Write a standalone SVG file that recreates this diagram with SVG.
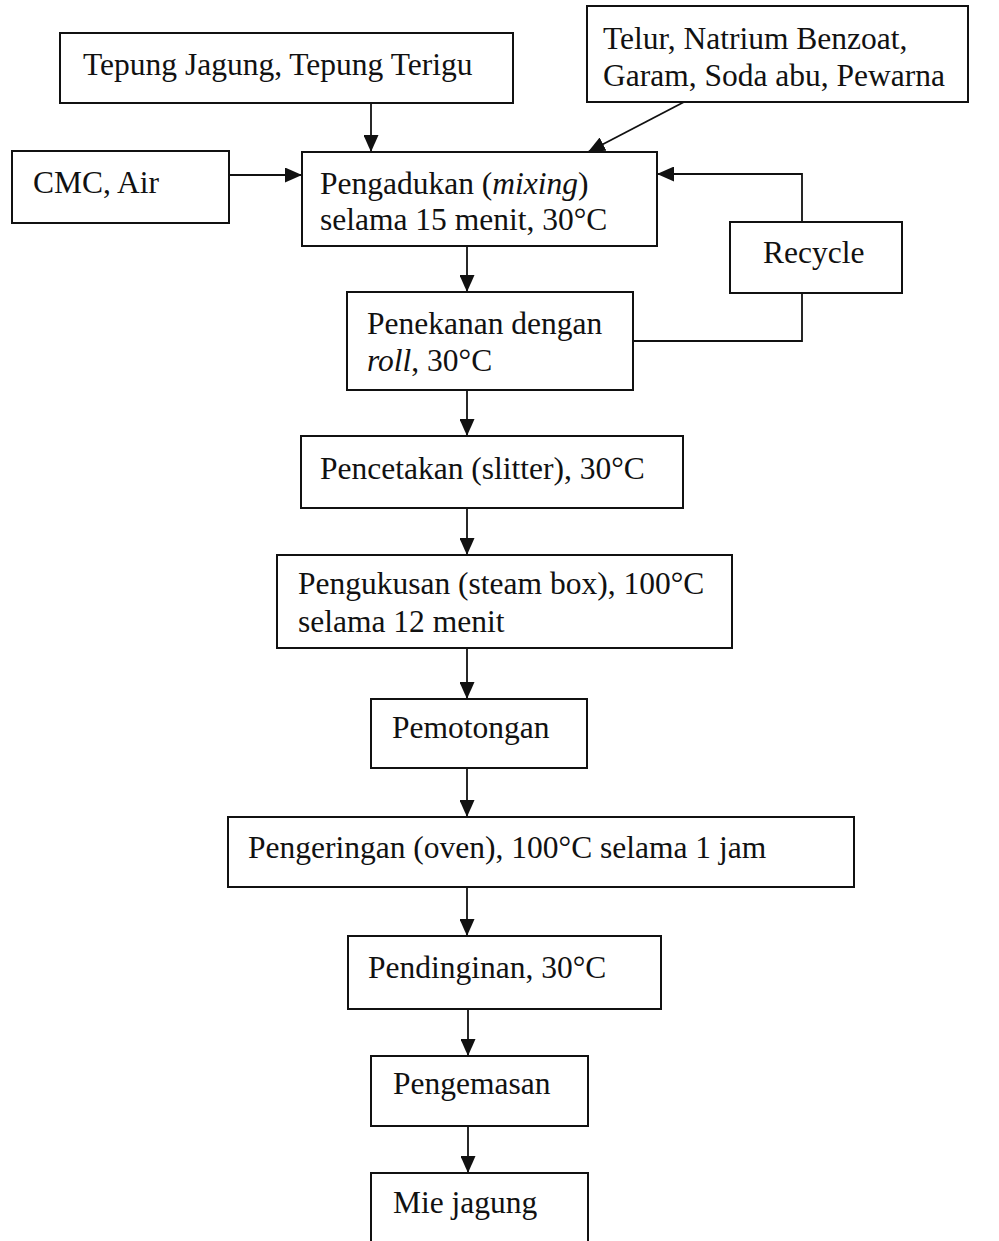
<svg xmlns="http://www.w3.org/2000/svg" width="999" height="1241" viewBox="0 0 999 1241">
<style>
.box{fill:#fff;stroke:#111;stroke-width:2}
.t{font-family:"Liberation Serif","Times New Roman",serif;font-size:31.5px;fill:#111}
.c{fill:none;stroke:#111;stroke-width:1.8}
</style>
<defs>
<marker id="ah" markerUnits="userSpaceOnUse" markerWidth="17" markerHeight="15" refX="17" refY="7.5" orient="auto">
<path d="M0,0 L17,7.5 L0,15 Z" fill="#111"/>
</marker>
</defs>
<rect width="999" height="1241" fill="#fff"/>
<g id="connectors">
<line class="c" x1="371" y1="103" x2="371" y2="152" marker-end="url(#ah)"/>
<line class="c" x1="229" y1="175" x2="302" y2="175" marker-end="url(#ah)"/>
<line class="c" x1="684" y1="102" x2="588" y2="152" marker-end="url(#ah)"/>
<line class="c" x1="467" y1="246" x2="467" y2="292" marker-end="url(#ah)"/>
<polyline class="c" points="633,341 802,341 802,293"/>
<polyline class="c" points="802,222 802,174 657,174" marker-end="url(#ah)"/>
<line class="c" x1="467" y1="390" x2="467" y2="436" marker-end="url(#ah)"/>
<line class="c" x1="467" y1="508" x2="467" y2="555" marker-end="url(#ah)"/>
<line class="c" x1="467" y1="648" x2="467" y2="699" marker-end="url(#ah)"/>
<line class="c" x1="467" y1="768" x2="467" y2="817" marker-end="url(#ah)"/>
<line class="c" x1="467" y1="887" x2="467" y2="936" marker-end="url(#ah)"/>
<line class="c" x1="468" y1="1009" x2="468" y2="1056" marker-end="url(#ah)"/>
<line class="c" x1="468" y1="1126" x2="468" y2="1173" marker-end="url(#ah)"/>
</g>
<g id="n-tepung">
<rect class="box" x="60" y="33" width="453" height="70"/>
<text class="t" x="83" y="75">Tepung Jagung, Tepung Terigu</text>
</g>
<g id="n-telur">
<rect class="box" x="587" y="6" width="381" height="96"/>
<text class="t" x="603" y="49">Telur, Natrium Benzoat,</text>
<text class="t" x="603" y="86">Garam, Soda abu, Pewarna</text>
</g>
<g id="n-cmc">
<rect class="box" x="12" y="151" width="217" height="72"/>
<text class="t" x="33" y="193">CMC, Air</text>
</g>
<g id="n-pengadukan">
<rect class="box" x="302" y="152" width="355" height="94"/>
<text class="t" x="320" y="194">Pengadukan (<tspan font-style="italic">mixing</tspan>)</text>
<text class="t" x="320" y="230">selama 15 menit, 30°C</text>
</g>
<g id="n-recycle">
<rect class="box" x="730" y="222" width="172" height="71"/>
<text class="t" x="763" y="263">Recycle</text>
</g>
<g id="n-penekanan">
<rect class="box" x="347" y="292" width="286" height="98"/>
<text class="t" x="367" y="334">Penekanan dengan</text>
<text class="t" x="367" y="371"><tspan font-style="italic">roll</tspan>, 30°C</text>
</g>
<g id="n-pencetakan">
<rect class="box" x="301" y="436" width="382" height="72"/>
<text class="t" x="320" y="479">Pencetakan (slitter), 30°C</text>
</g>
<g id="n-pengukusan">
<rect class="box" x="277" y="555" width="455" height="93"/>
<text class="t" x="298" y="594">Pengukusan (steam box), 100°C</text>
<text class="t" x="298" y="632">selama 12 menit</text>
</g>
<g id="n-pemotongan">
<rect class="box" x="371" y="699" width="216" height="69"/>
<text class="t" x="392" y="738">Pemotongan</text>
</g>
<g id="n-pengeringan">
<rect class="box" x="228" y="817" width="626" height="70"/>
<text class="t" x="248" y="858">Pengeringan (oven), 100°C selama 1 jam</text>
</g>
<g id="n-pendinginan">
<rect class="box" x="348" y="936" width="313" height="73"/>
<text class="t" x="368" y="978">Pendinginan, 30°C</text>
</g>
<g id="n-pengemasan">
<rect class="box" x="371" y="1056" width="217" height="70"/>
<text class="t" x="393" y="1094">Pengemasan</text>
</g>
<g id="n-mie">
<rect class="box" x="371" y="1173" width="217" height="80"/>
<text class="t" x="393" y="1213">Mie jagung</text>
</g>
</svg>
